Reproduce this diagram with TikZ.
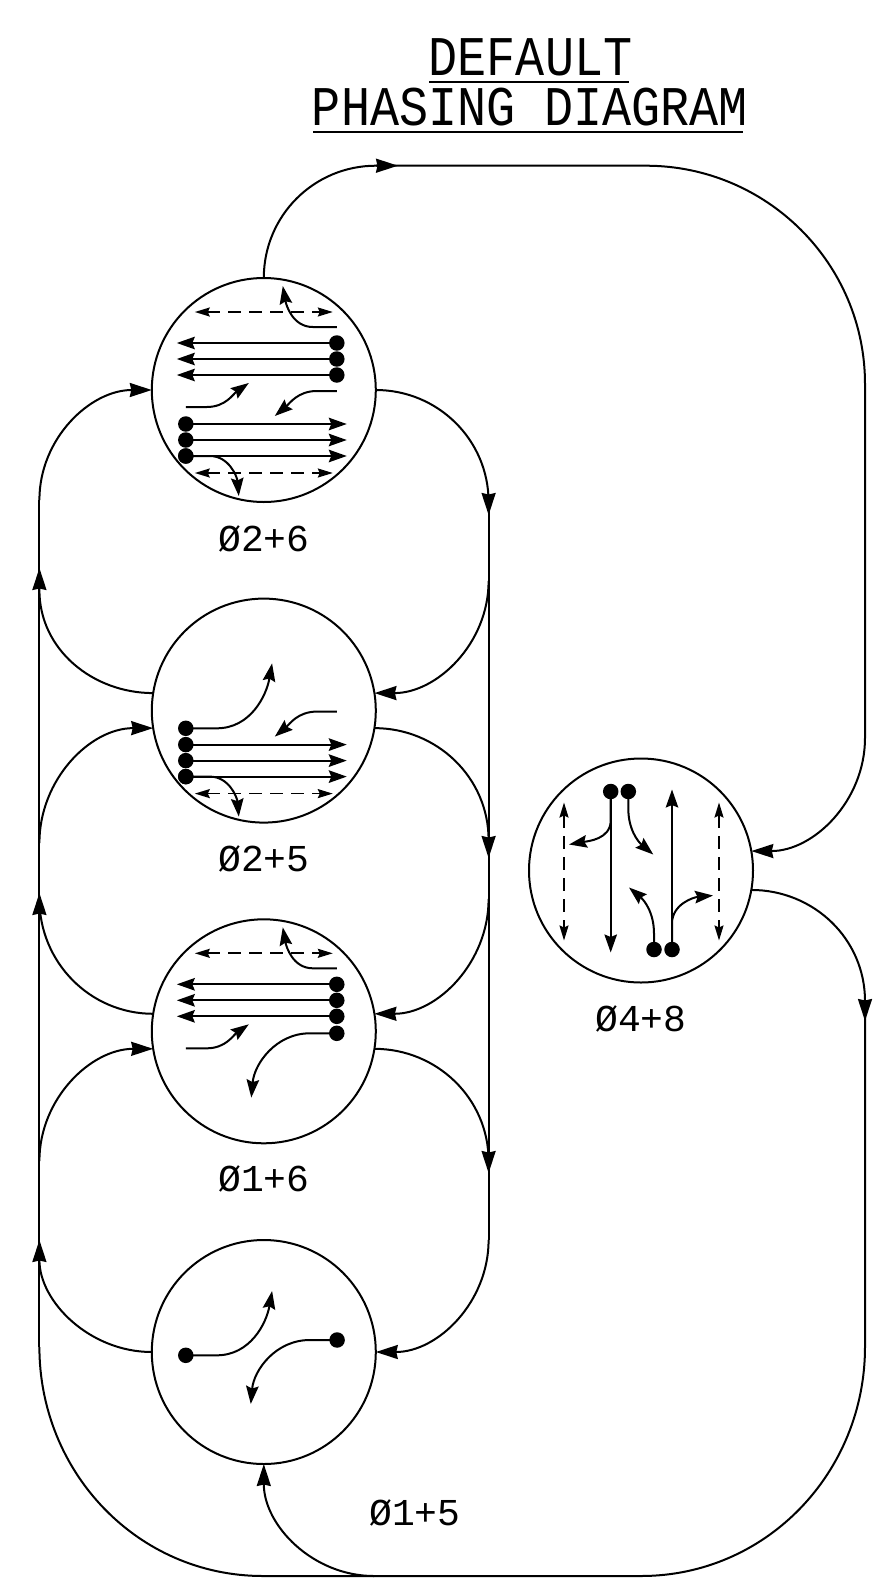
\documentclass[tikz,border=0pt]{standalone}
\usepackage{fontspec}
\usetikzlibrary{arrows.meta}
\newfontfamily\titlefont[FakeStretch=.865]{Liberation Mono}
\newfontfamily\phasefont{Liberation Mono}
\tikzset{
    phase/.style={draw,circle,minimum size=224pt,inner sep=0pt,outer sep=0pt,line width=2pt},
    lnk/.style={line width=2pt},
    lnkarr/.style={lnk,-{Stealth[length=22pt,width=14pt,inset=1.5pt]}},
    mv/.style={line width=2pt,-{Stealth[length=18pt,width=12.5pt,inset=2.5pt]}},
    ped/.style={line width=1.7pt,dash pattern=on 13pt off 8pt,{Stealth[length=15pt,width=9pt,inset=2pt]}-{Stealth[length=15pt,width=9pt,inset=2pt]}},
    dot/.style={circle,fill=black,minimum size=15.5pt,inner sep=0pt},
    titletext/.style={font=\titlefont\fontsize{56}{56}\selectfont,inner sep=0pt,text height=37pt,text depth=0pt},
    phasetext/.style={font=\phasefont\fontsize{38}{38}\selectfont,inner sep=0pt},
    % ----- cac huong di chuyen trong vong tron
    pedtop/.pic={
        \draw[ped] (-69,78)--(69,78);
        \draw[mv] (73,63)--(49,63) to[out=180,in=-80] (19,104);
    },
    pedbot/.pic={
        \draw[ped] (-69,-83)--(69,-83);
        \node[dot] (rtdot) at (-78,-66) {};
        \draw[mv] (rtdot.center)--(-54,-66) to[out=0,in=95] (-25,-106);
    },
    nbleft/.pic={
        \draw[mv] (-78,-17)--(-57,-17) to[out=0,in=215] (-15,7);
    },
    sbleft/.pic={
        \draw[mv] (73,-1)--(53,-1) to[out=180,in=40] (11,-26);
    },
    thruw/.pic={
        \foreach \yy in {47,31,15} {
            \node[dot] (wdot) at (73,\yy) {};
            \draw[mv] (wdot.center)--(-87,\yy);
        }
    },
    thrue/.pic={
        \foreach \yy in {-34,-50,-66} {
            \node[dot] (edot) at (-78,\yy) {};
            \draw[mv] (edot.center)--(83,\yy);
        }
    }
}
\begin{document}
\begin{tikzpicture}[x=1pt,y=1pt]
    \useasboundingbox (0,0) rectangle (883,-1585);
    % tieu de
    \node[titletext,anchor=base] (t1) at (530.5,-75) {DEFAULT};
    \node[titletext,anchor=base] (t2) at (530,-125) {PHASING DIAGRAM};
    \coordinate (u1a) at (429,-82); \coordinate (u1b) at (629,-82);
    \coordinate (u2a) at (313,-132); \coordinate (u2b) at (743,-132);
    \draw[line width=1.3pt] (u1a)--(u1b) (u2a)--(u2b);
    % vong tron
    \node[phase] (a) at (263.8,-390) {};
    \node[phase] (b) at (263.8,-710.6) {};
    \node[phase] (c) at (263.8,-1031.3) {};
    \node[phase] (d) at (263.8,-1352) {};
    \node[phase] (e) at (641,-870.5) {};
    \node[phasetext] (la) at (264,-539) {Ø2+6};
    \node[phasetext] (lb) at (264,-859) {Ø2+5};
    \node[phasetext] (lc) at (264,-1179) {Ø1+6};
    \node[phasetext] (ld) at (415,-1513) {Ø1+5};
    \node[phasetext] (le) at (641,-1018.7) {Ø4+8};
    % duong ben phai
    \path
    (488.6,-502) coordinate (r1) ++(0,-13) coordinate (r1t)
    (488.6,-581) coordinate (r2)
    (488.6,-840) coordinate (r3) ++(0,-18) coordinate (r3t)
    (488.6,-899) coordinate (r4)
    (488.6,-1161) coordinate (r5) ++(0,-12) coordinate (r5t)
    (488.6,-1240) coordinate (r6);
    \draw[lnkarr] (a.east) to[out=0,in=90] (r1)--(r1t);
    \draw[lnkarr] (b.-9) to[out=0,in=90] (r3)--(r3t);
    \draw[lnkarr] (c.-9) to[out=0,in=90] (r5)--(r5t);
    \draw[lnkarr] (r2) to[out=-90,in=0] (b.9);
    \draw[lnkarr] (r4) to[out=-90,in=0] (c.9);
    \draw[lnkarr] (r6) to[out=-90,in=0] (d.east);
    \draw[lnk] (r1)--(r6);
    % duong ben trai
    \path
    (39.4,-1240) coordinate (l1)
    (39.4,-1161) coordinate (l2)
    (39.4,-899) coordinate (l3) ++(0,6) coordinate (l3t)
    (39.4,-843) coordinate (l4)
    (39.4,-590) coordinate (l5) ++(0,22) coordinate (l5t)
    (39.4,-500) coordinate (l6)
    (39.4,-1347) coordinate (l7);
    \draw[lnkarr] (d.west) to[out=180,in=-90] (l1);
    \draw[lnkarr] (c.171) to[out=180,in=-90] (l3)--(l3t);
    \draw[lnkarr] (b.171) to[out=180,in=-90] (l5)--(l5t);
    \draw[lnkarr] (l2) to[out=90,in=180] (c.189);
    \draw[lnkarr] (l4) to[out=90,in=180] (b.189);
    \draw[lnkarr] (l6) to[out=90,in=180] (a.west);
    \draw[lnk] (l7)--(l6);
    % vong ngoai
    \path
    (376,-165.7) coordinate (o1) (398,-165.7) coordinate (o1t)
    (646,-165.7) coordinate (o2)
    (865,-384) coordinate (o3)
    (865,-738) coordinate (o4)
    (865,-1001) coordinate (o5) ++(0,-20) coordinate (o5t)
    (865,-1347) coordinate (o6)
    (641,-1576) coordinate (o7)
    (374,-1576) coordinate (o8)
    (263,-1576) coordinate (o9);
    \draw[lnkarr] (a.north) to[out=90,in=180] (o1)--(o1t);
    \draw[lnk] (o1)--(o2) to[out=0,in=90] (o3)--(o4);
    \draw[lnkarr] (o4) to[out=-90,in=0] (e.10);
    \draw[lnkarr] (e.-10) to[out=0,in=90] (o5)--(o5t);
    \draw[lnk] (o5)--(o6) to[out=-90,in=0] (o7)--(o8);
    \draw[lnkarr] (o8) to[out=180,in=-90] (d.south);
    \draw[lnk] (o8)--(o9) to[out=180,in=-90] (l7);
    % pha 2+6
    \begin{scope}[shift={(a.center)}]
        \pic {pedtop}; \pic {thruw}; \pic {nbleft}; \pic {sbleft}; \pic {thrue}; \pic {pedbot};
    \end{scope}
    % pha 2+5
    \begin{scope}[shift={(b.center)}]
        \pic {sbleft}; \pic {thrue}; \pic {pedbot};
        \node[dot] (b1) at (-78,-17.7) {};
        \draw[mv] (b1.center)--(-47,-17.7) to[out=0,in=-100] (8.3,47.3);
    \end{scope}
    % pha 1+6
    \begin{scope}[shift={(c.center)}]
        \pic {pedtop}; \pic {thruw}; \pic {nbleft};
        \node[dot] (c1) at (73,-2) {};
        \draw[mv] (c1.center)--(46,-2) to[out=180,in=85] (-12.5,-66.3);
    \end{scope}
    % pha 1+5
    \begin{scope}[shift={(d.center)}]
        \node[dot] (d1) at (-78,-3.3) {};
        \node[dot] (d2) at (73.3,12) {};
        \draw[mv] (d1.center)--(-47,-3.3) to[out=0,in=-100] (8.3,61);
        \draw[mv] (d2.center)--(46,12) to[out=180,in=85] (-13,-52);
    \end{scope}
    % pha 4+8
    \begin{scope}[shift={(e.center)}]
        \node[dot] (e1) at (-30.3,79) {};
        \node[dot] (e2) at (-12.7,79) {};
        \node[dot] (e3) at (13,-79) {};
        \node[dot] (e4) at (31,-79) {};
        \draw[ped] (-77,68)--(-77,-70);
        \draw[ped] (78,68)--(78,-70);
        \draw[mv] (e1.center)--(-30.3,-82);
        \draw[mv] (e4.center)--(31,81);
        \draw[mv] (e1.center)--(-30.3,50) to[out=-90,in=10] (-72,26);
        \draw[mv] (e2.center)--(-12.7,62) to[out=-90,in=140] (12.3,16);
        \draw[mv] (e3.center)--(13,-63) to[out=90,in=-40] (-12,-17);
        \draw[mv] (e4.center)--(31,-53) to[out=90,in=185] (72,-25);
    \end{scope}
\end{tikzpicture}
\end{document}
